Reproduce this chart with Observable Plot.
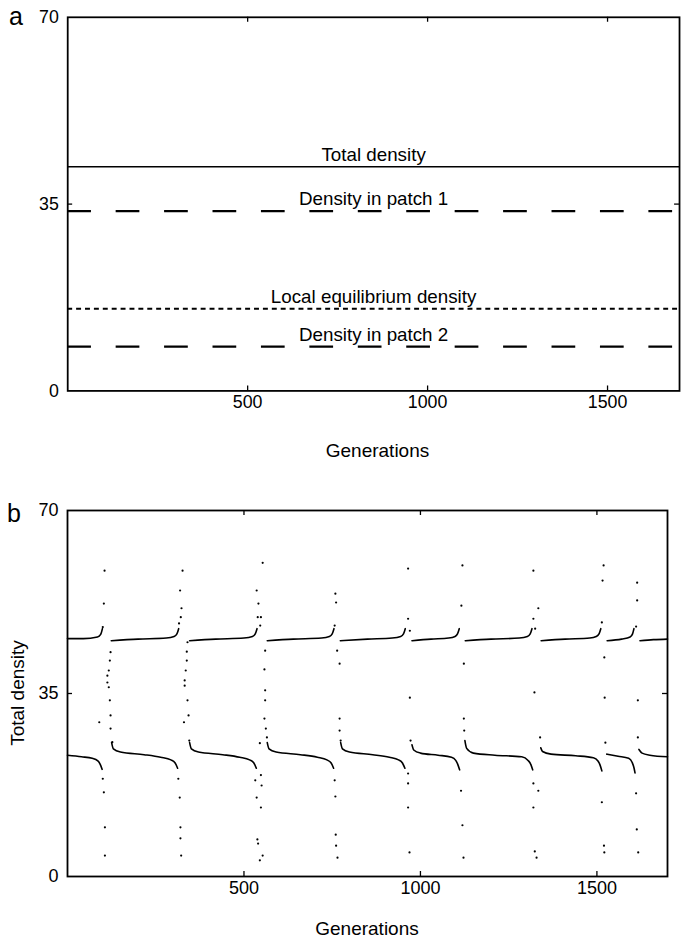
<!DOCTYPE html>
<html>
<head>
<meta charset="utf-8">
<script src="https://cdn.jsdelivr.net/npm/d3@7"></script>
<script src="https://cdn.jsdelivr.net/npm/@observablehq/plot@0.6"></script>
<style>
html, body { margin: 0; padding: 0; background: #fff; overflow: hidden; width: 682px; height: 940px; }
#root { position: relative; width: 682px; height: 940px; overflow: hidden; font-family: "Liberation Sans", Arial, Helvetica, sans-serif; color: #000; }
#root > * { position: absolute; }
</style>
</head>
<body>
<div id="root"></div>
<script>
// ---------------- data ----------------
const genDomain = [0, 1700];
const densityDomain = [0, 70];
const xTicks = [500, 1000, 1500];
const yTicks = [0, 35, 70];
const xLabel = "Generations";
const yLabelB = "Total density";
const panelLetters = ["a", "b"];

// panel a: constant densities
const seriesNamesA = ["Total density", "Density in patch 1", "Local equilibrium density", "Density in patch 2"];
const seriesValuesA = [42, 33.7, 15.4, 8.3];

// panel b: upper branch of the 2-cycle, one list of [generation, density] per stretch
const upperBranch = [
  [[0,45.5],[45,45.5],[85,45.8],[94,46.3],[99,47.4]],
  [[124,45.1],[200,45.4],[280,45.6],[302,45.9],[310,46.4],[315,47.4]],
  [[346,45.1],[420,45.4],[500,45.6],[524,45.9],[532,46.4],[537,47.4]],
  [[566,45.1],[640,45.4],[720,45.6],[742,45.9],[750,46.4],[755,47.4]],
  [[773,45.1],[850,45.4],[920,45.6],[944,45.9],[952,46.4],[957,47.4]],
  [[976,45.1],[1030,45.4],[1080,45.6],[1098,45.9],[1105,46.4],[1110,47.4]],
  [[1127,45.1],[1200,45.4],[1280,45.6],[1303,45.9],[1311,46.4],[1316,47.4]],
  [[1342,45.1],[1410,45.4],[1480,45.6],[1498,45.9],[1506,46.4],[1511,47.4]],
  [[1529,45.1],[1570,45.4],[1594,45.8],[1601,46.4],[1605,47.4]],
  [[1622,45.1],[1660,45.3],[1700,45.4]]
];
// panel b: lower branch of the 2-cycle
const lowerBranch = [
  [[0,23.2],[40,22.9],[70,22.6],[86,22.1],[93,21.4],[98,20.5]],
  [[125,25.6],[130,24.4],[150,23.8],[217,23.3],[264,22.8],[293,22.3],[305,21.7],[312,20.7]],
  [[346,25.6],[351,24.4],[371,23.8],[440,23.3],[488,22.8],[516,22.3],[528,21.7],[535,20.7]],
  [[566,25.6],[571,24.4],[591,23.8],[660,23.3],[708,22.8],[735,22.3],[747,21.7],[754,20.7]],
  [[774,25.6],[779,24.4],[799,23.8],[865,23.3],[912,22.8],[938,22.3],[949,21.7],[956,20.7]],
  [[976,25.2],[981,24.2],[1000,23.6],[1050,23.2],[1088,22.8],[1100,22.2],[1106,21.4],[1111,20.4]],
  [[1126,26.0],[1131,24.5],[1150,23.6],[1211,23.2],[1287,22.9],[1305,22.2],[1313,21.4],[1318,20.4]],
  [[1341,24.6],[1346,23.9],[1370,23.4],[1440,23.1],[1490,22.7],[1503,22.1],[1509,21.3],[1514,20.2]],
  [[1528,23.4],[1560,23.0],[1590,22.6],[1600,21.8],[1605,20.8],[1608,19.8]],
  [[1619,24.3],[1628,23.6],[1650,23.2],[1700,22.9]]
];
// panel b: scattered generations around each switch
const scatterPoints = [
  [105,58.5],[103,52.2],[100,47.7],[122,42.9],[120,41.3],[117,39.4],[113,38.4],[113,37.1],[117,36.2],[120,33.7],[122,30.8],[122,28.3],[127,25.7],[90,29.5],[100,18.7],[103,16.1],[106,9.4],[106,4.0],
  [326,58.5],[319,54.7],[323,51.3],[321,49.6],[316,48.4],[340,44.8],[338,43.0],[338,41.3],[335,39.4],[332,37.5],[332,36.5],[340,33.7],[343,30.8],[330,29.5],[345,26.0],[314,18.7],[318,15.1],[320,9.4],[320,7.3],[322,4.0],
  [536,54.7],[541,52.2],[539,49.6],[548,49.6],[546,48.0],[553,60.0],[560,43.2],[558,39.6],[560,35.6],[560,33.7],[558,30.2],[562,28.3],[565,26.6],[545,25.5],[532,18.4],[548,19.4],[550,17.4],[536,15.1],[548,13.2],[538,7.1],[540,6.3],[553,4.0],[545,3.1],
  [759,54.1],[761,52.4],[757,48.0],[764,43.2],[771,40.7],[771,30.2],[771,27.9],[774,26.0],[757,18.4],[759,15.3],[760,8.0],[761,5.9],[765,3.6],
  [965,58.9],[965,49.3],[970,47.0],[970,34.2],[972,26.0],[965,19.7],[965,17.8],[965,13.2],[969,4.6],
  [1119,59.5],[1116,51.8],[1123,40.7],[1123,30.2],[1124,27.9],[1115,16.4],[1119,9.8],[1122,3.6],
  [1320,58.5],[1334,51.3],[1320,49.3],[1325,47.4],[1323,35.2],[1339,26.6],[1320,17.8],[1334,16.4],[1320,13.2],[1324,4.8],[1329,3.6],
  [1519,59.5],[1516,56.6],[1514,48.6],[1521,41.9],[1522,34.2],[1524,25.6],[1514,14.2],[1520,5.9],[1521,4.6],
  [1614,56.2],[1614,52.8],[1611,47.8],[1616,33.7],[1616,26.6],[1611,15.9],[1613,9.0],[1617,4.6]
];

// ---------------- build ----------------
const FONT = '"Liberation Sans", Arial, Helvetica, sans-serif';
const root = document.getElementById("root");
const plainFormat = d => String(d);

function toRows(branch) {
  const rows = [];
  branch.forEach((seg, i) => seg.forEach(([g, v]) => rows.push({seg: i, gen: g, val: v})));
  return rows;
}

function inwardTicks(plotW, plotH, len) {
  const inner = yTicks.filter(t => t > densityDomain[0] && t < densityDomain[1]);
  return [
    Plot.tickX(xTicks, {x: d => d, insetTop: plotH - len, strokeWidth: 1.3}),
    Plot.tickX(xTicks, {x: d => d, insetBottom: plotH - len, strokeWidth: 1.3}),
    Plot.tickY(inner, {y: d => d, insetRight: plotW - len, strokeWidth: 1.3}),
    Plot.tickY(inner, {y: d => d, insetLeft: plotW - len, strokeWidth: 1.3})
  ];
}

// Panel a
const A = {width: 690, height: 425, ml: 68, mr: 3, mt: 17, mb: 30};
const labelRowsA = seriesNamesA.map((n, i) => ({name: n, value: seriesValuesA[i]}));
const plotA = Plot.plot({
  width: A.width, height: A.height,
  marginLeft: A.ml, marginRight: A.mr, marginTop: A.mt, marginBottom: A.mb,
  x: {domain: genDomain},
  y: {domain: densityDomain},
  style: {fontFamily: FONT, fontSize: "18px", color: "black", background: "transparent", overflow: "visible"},
  marks: [
    Plot.ruleY([seriesValuesA[0]], {strokeWidth: 1.7}),
    Plot.ruleY([seriesValuesA[1], seriesValuesA[3]], {strokeWidth: 2.2, strokeDasharray: "24,25"}),
    Plot.ruleY([seriesValuesA[2]], {strokeWidth: 2, strokeDasharray: "5,4"}),
    Plot.text(labelRowsA, {y: "value", text: "name", frameAnchor: "middle", lineAnchor: "bottom", dy: -6, fontSize: 19}),
    Plot.frame({strokeWidth: 1.8}),
    ...inwardTicks(A.width - A.ml - A.mr, A.height - A.mt - A.mb, 5),
    Plot.axisX(xTicks, {tickSize: 0, tickPadding: 5, fontSize: 18, label: null, tickFormat: plainFormat}),
    Plot.axisY(yTicks, {tickSize: 0, tickPadding: 9, fontSize: 18, label: null, tickFormat: plainFormat})
  ]
});
plotA.style.left = "0px";
plotA.style.top = "0px";
root.appendChild(plotA);

// Panel b
const B = {width: 682, height: 420, ml: 67, mr: 15, mt: 30, mb: 24, top: 480};
const plotB = Plot.plot({
  width: B.width, height: B.height,
  marginLeft: B.ml, marginRight: B.mr, marginTop: B.mt, marginBottom: B.mb,
  x: {domain: genDomain},
  y: {domain: densityDomain},
  style: {fontFamily: FONT, fontSize: "18px", color: "black", background: "transparent", overflow: "visible"},
  marks: [
    Plot.line(toRows(upperBranch), {x: "gen", y: "val", z: "seg", curve: "monotone-x", strokeWidth: 1.6}),
    Plot.line(toRows(lowerBranch), {x: "gen", y: "val", z: "seg", curve: "monotone-x", strokeWidth: 1.6}),
    Plot.dot(scatterPoints, {x: d => d[0], y: d => d[1], r: 1.1, fill: "black", stroke: null}),
    Plot.frame({strokeWidth: 1.8}),
    ...inwardTicks(B.width - B.ml - B.mr, B.height - B.mt - B.mb, 5),
    Plot.axisX(xTicks, {tickSize: 0, tickPadding: 5, fontSize: 18, label: null, tickFormat: plainFormat}),
    Plot.axisY(yTicks, {tickSize: 0, tickPadding: 9, fontSize: 18, label: null, tickFormat: plainFormat})
  ]
});
plotB.style.left = "0px";
plotB.style.top = B.top + "px";
root.appendChild(plotB);

// Annotations: panel letters and axis titles
const ns = "http://www.w3.org/2000/svg";
const over = document.createElementNS(ns, "svg");
over.setAttribute("width", 682);
over.setAttribute("height", 940);
over.style.left = "0px";
over.style.top = "0px";
over.style.pointerEvents = "none";
over.setAttribute("font-family", FONT);
function addText(txt, x, y, size, anchor, rotate) {
  const t = document.createElementNS(ns, "text");
  t.textContent = txt;
  t.setAttribute("x", x);
  t.setAttribute("y", y);
  t.setAttribute("font-size", size);
  t.setAttribute("text-anchor", anchor);
  if (rotate) t.setAttribute("transform", `rotate(${rotate},${x},${y})`);
  over.appendChild(t);
}
addText(panelLetters[0], 9, 25, 25, "start");
addText(panelLetters[1], 7, 522, 25, "start");
addText(xLabel, A.ml + (A.width - A.ml - A.mr) / 2, 457, 19, "middle");
addText(xLabel, B.ml + (B.width - B.ml - B.mr) / 2, 935, 19, "middle");
addText(yLabelB, 24, B.top + B.mt + (B.height - B.mt - B.mb) / 2, 19, "middle", -90);
root.appendChild(over);
</script>
</body>
</html>
